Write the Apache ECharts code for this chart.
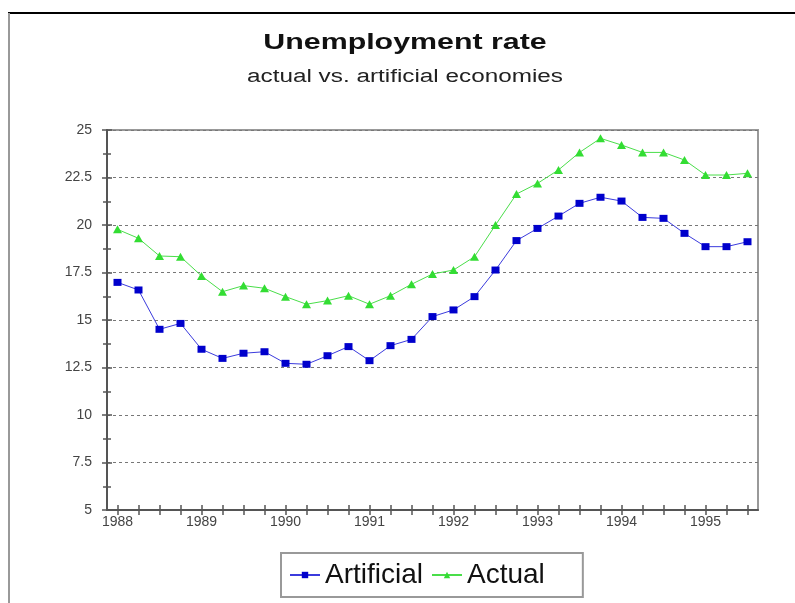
<!DOCTYPE html>
<html><head><meta charset="utf-8">
<script src="https://cdn.jsdelivr.net/npm/echarts@6/dist/echarts.min.js"></script>
<style>html,body{margin:0;padding:0;background:#fff}#c{width:795px;height:603px}</style>
</head><body><div id="c"></div>
<script>
const yearLabels = ['1988','1989','1990','1991','1992','1993','1994','1995'];
const quarters = ['Q1','Q2','Q3','Q4'];
const artificial = [16.98,16.58,14.51,14.82,13.46,12.98,13.25,13.33,12.72,12.67,13.12,13.6,12.86,13.65,13.98,15.18,15.53,16.23,17.63,19.18,19.82,20.47,21.14,21.46,21.26,20.40,20.35,19.56,18.86,18.86,19.12];
const actual = [19.77,19.30,18.37,18.33,17.32,16.49,16.81,16.67,16.23,15.83,16.02,16.28,15.83,16.28,16.88,17.42,17.63,18.33,20.0,21.63,22.19,22.9,23.82,24.56,24.21,23.82,23.82,23.42,22.63,22.63,22.72];
const yMin = 5, yMax = 25, yStep = 2.5;
const titleText = 'Unemployment rate';
const subtitleText = 'actual vs. artificial economies';

const categories = [];
for (let i = 0; i < artificial.length; i++) {
  categories.push(yearLabels[Math.floor(i / 4)] + ' ' + quarters[i % 4]);
}
const font = 'Liberation Sans, Arial, sans-serif';
const grid = {left: 107, right: 37, top: 130, bottom: 93};
const axisCol = '#555';

function xAx(inside, show) {
  return {
    type: 'category', data: categories, boundaryGap: true, gridIndex: 0, position: 'bottom',
    axisLine: {show: show, onZero: false, lineStyle: {color: axisCol, width: 2}},
    axisTick: {show: true, inside: inside, alignWithLabel: true, interval: 0, length: 5, lineStyle: {color: axisCol, width: 1.5}},
    axisLabel: {show: show, interval: 3, formatter: v => v.split(' ')[0], color: '#444', fontFamily: font, fontSize: 14, margin: 5},
    splitLine: {show: false}
  };
}
function yAx(inside, show) {
  return {
    type: 'value', min: yMin, max: yMax, interval: yStep, gridIndex: 0, position: 'left',
    axisLine: {show: show, onZero: false, lineStyle: {color: axisCol, width: 2}},
    axisTick: {show: true, inside: inside, length: 5, lineStyle: {color: axisCol, width: 1.5}},
    minorTick: {show: true, splitNumber: 2, length: 4, lineStyle: {color: axisCol, width: 1.5}},
    axisLabel: {show: show, color: '#444', fontFamily: font, fontSize: 14, margin: 15},
    splitLine: {show: show, lineStyle: {color: '#777', width: 1, type: [3, 3]}},
    minorSplitLine: {show: false}
  };
}
const chart = echarts.init(document.getElementById('c'), null, {renderer: 'canvas'});
chart.setOption({
  animation: false,
  backgroundColor: '#fff',
  grid: Object.assign({show: true, borderColor: '#999', borderWidth: 2, backgroundColor: 'transparent'}, grid),
  xAxis: [xAx(false, true), xAx(true, false)],
  yAxis: [yAx(false, true), yAx(true, false)],
  legend: {
    left: 281, top: 553,
    padding: [8, 38, 8, 8],
    borderColor: '#999', borderWidth: 2,
    itemWidth: 30, itemHeight: 8, itemGap: 8,
    textStyle: {fontFamily: font, fontSize: 28, color: '#111'},
    data: ['Artificial', 'Actual']
  },
  graphic: [
    {type: 'line', shape: {x1: 8, y1: 13, x2: 795, y2: 13}, style: {stroke: '#000', lineWidth: 2}},
    {type: 'line', shape: {x1: 9, y1: 13, x2: 9, y2: 603}, style: {stroke: '#999', lineWidth: 2}},
    {type: 'text', x: 405, y: 32, scaleX: 1.38,
     style: {text: titleText, font: 'bold 22px ' + font, fill: '#111', align: 'center', verticalAlign: 'top'}},
    {type: 'text', x: 405, y: 68, scaleX: 1.35,
     style: {text: subtitleText, font: '18px ' + font, fill: '#222', align: 'center', verticalAlign: 'top'}}
  ],
  series: [
    {name: 'Artificial', type: 'line', data: artificial, xAxisIndex: 0, yAxisIndex: 0,
     symbol: 'rect', symbolSize: [8, 7], itemStyle: {color: '#0000cc'},
     lineStyle: {color: '#3b3bdd', width: 1}},
    {name: 'Actual', type: 'line', data: actual, xAxisIndex: 0, yAxisIndex: 0,
     symbol: 'triangle', symbolSize: [9, 8], itemStyle: {color: '#33dd33'},
     lineStyle: {color: '#4ade4a', width: 1}}
  ]
});
</script></body></html>
